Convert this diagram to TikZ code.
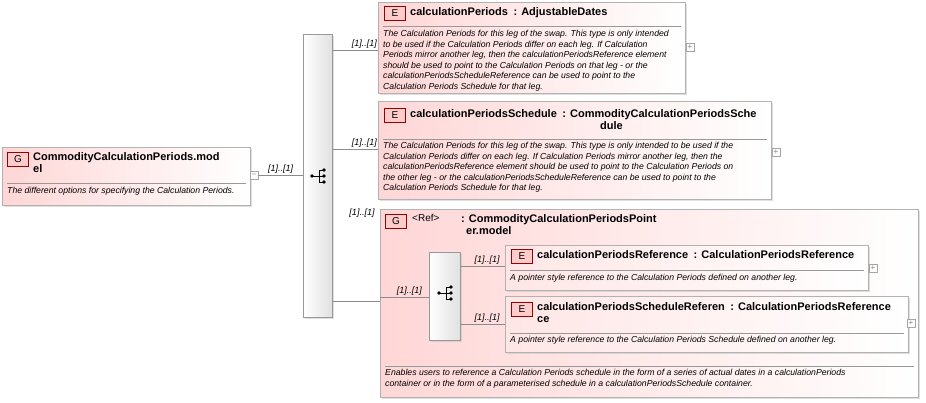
\documentclass[tikz,border=0pt]{standalone}
\usepackage{fontspec}
\setmainfont{Liberation Sans}
\usetikzlibrary{shadows}

\begin{document}
\begin{tikzpicture}[x=1pt,y=-1pt,
    kasten/.style={draw=black!30, left color=red!16, right color=white,
      drop shadow={shadow xshift=2pt,shadow yshift=-2pt,fill=black!25}},
    auswahl/.style={draw=black!40, left color=white, right color=black!12,
      drop shadow={shadow xshift=2pt,shadow yshift=-2pt,fill=black!25}},
    marke/.style={draw=red!60!black, fill=red!20, font=\fontsize{10}{11}\selectfont,
      inner sep=1.5pt, minimum width=21pt, minimum height=14pt},
    titel/.style={font=\bfseries\fontsize{11}{12.5}\selectfont, anchor=north west, inner sep=0pt, align=left},
    doku/.style={font=\itshape\fontsize{8.7}{10.6}\selectfont, anchor=north west, inner sep=0pt, align=left},
    kard/.style={font=\itshape\fontsize{9}{10}\selectfont, inner sep=1pt},
    plus/.style={draw=black!35, fill=white, minimum size=8pt, inner sep=0pt, font=\fontsize{8}{8}\selectfont\color{black!50}},
    linie/.style={draw=black!45}
    ]
  \useasboundingbox (0,0) rectangle (926,402);

  % Wahlknoten-Symbol
  \newcommand\wahlsymbol[1]{%
    \fill (#1) ++(-6,1) circle (1.8pt);
    \draw[line width=.9pt] (#1) ++(-6,1) -- ++(7,0) (#1) ++(1,-5) -- ++(0,12)
      (#1) ++(1,-5) -- ++(5,0) (#1) ++(1,1) -- ++(5,0) (#1) ++(1,7) -- ++(5,0);
    \fill (#1) ++(6,-5) circle (1.9pt) (#1) ++(6,1) circle (1.9pt) (#1) ++(6,7) circle (1.9pt);}

  % Gruppe links
  \node[kasten, minimum width=248, minimum height=58, anchor=north west] (modell) at (2,147) {};
  \node[marke] (mG) at (18,159) {G};
  \node[titel] (mT) at (33,152) {CommodityCalculationPeriods.mod\\el};
  \draw[black!40] (7,183) -- (246,183);
  \node[doku] (mD) at (7,187) {The different options for specifying the Calculation Periods.};
  \node[plus] (mP) at (254,175) {--};

  % Auswahl
  \node[auswahl, minimum width=29, minimum height=283, anchor=north west] (wahl) at (303,34) {};
  \coordinate (wS) at (318,175);
  \wahlsymbol{wS}

  % Element 1
  \node[kasten, minimum width=307, minimum height=91, anchor=north west] (perioden) at (378,2) {};
  \node[marke] (pE) at (395,13) {E};
  \node[titel] (pT) at (410,7) {calculationPeriods\enspace: AdjustableDates};
  \draw[black!40] (383,26) -- (681,26);
  \node[doku] (pD) at (383,30) {The Calculation Periods for this leg of the swap. This type is only intended\\to be used if the Calculation Periods differ on each leg. If Calculation\\Periods mirror another leg, then the calculationPeriodsReference element\\should be used to point to the Calculation Periods on that leg - or the\\calculationPeriodsScheduleReference can be used to point to the\\Calculation Periods Schedule for that leg.};
  \node[plus] (pP) at (690,47) {+};

  % Element 2
  \node[kasten, minimum width=393, minimum height=98, anchor=north west] (plan) at (378,101) {};
  \node[marke] (sE) at (395,115) {E};
  \node[titel] (sT) at (410,109) {calculationPeriodsSchedule\enspace: CommodityCalculationPeriodsSche\\\hspace*{190pt}dule};
  \draw[black!40] (383,139) -- (767,139);
  \node[doku] (sD) at (383,142) {The Calculation Periods for this leg of the swap. This type is only intended to be used if the\\Calculation Periods differ on each leg. If Calculation Periods mirror another leg, then the\\calculationPeriodsReference element should be used to point to the Calculation Periods on\\the other leg - or the calculationPeriodsScheduleReference can be used to point to the\\Calculation Periods Schedule for that leg.};
  \node[plus] (sP) at (776,152) {+};

  % Referenzgruppe
  \node[kasten, minimum width=538, minimum height=188, anchor=north west] (verweis) at (380,209) {};
  \node[marke] (vG) at (396,221) {G};
  \node[titel, font=\fontsize{10}{12}\selectfont] (vR) at (412,214) {<Ref>};
  \node[titel] (vT) at (461,214) {: CommodityCalculationPeriodsPoint\\\hspace*{5pt}er.model};
  \draw[black!40] (385,366) -- (914,366);
  \node[doku] (vD) at (385,369) {Enables users to reference a Calculation Periods schedule in the form of a series of actual dates in a calculationPeriods\\container or in the form of a parameterised schedule in a calculationPeriodsSchedule container.};

  \node[auswahl, minimum width=31, minimum height=88, anchor=north west] (wahl2) at (429,252) {};
  \coordinate (wS2) at (445,292);
  \wahlsymbol{wS2}

  \node[kasten, left color=red!10, right color=white, minimum width=363, minimum height=45, anchor=north west] (bezug) at (505,245) {};
  \node[marke] (bE) at (522,256) {E};
  \node[titel] (bT) at (537,250) {calculationPeriodsReference\enspace: CalculationPeriodsReference};
  \draw[black!40] (510,270) -- (864,270);
  \node[doku] (bD) at (510,274) {A pointer style reference to the Calculation Periods defined on another leg.};
  \node[plus] (bP) at (873,268) {+};

  \node[kasten, left color=red!10, right color=white, minimum width=403, minimum height=56, anchor=north west] (planbezug) at (505,296) {};
  \node[marke] (qE) at (522,309) {E};
  \node[titel] (qT) at (537,302) {calculationPeriodsScheduleReferen\enspace: CalculationPeriodsReference\\ce};
  \draw[black!40] (510,333) -- (904,333);
  \node[doku] (qD) at (510,336) {A pointer style reference to the Calculation Periods Schedule defined on another leg.};
  \node[plus] (qP) at (911,323) {+};

  % Verbindungen
  \draw[linie] (mP.east) -- node[kard, above] {[1]..[1]} (wahl.west |- mP);
  \draw[linie] (wahl.east |- 0,50) -- node[kard, above, pos=.7] {[1]..[1]} (perioden.west |- 0,50);
  \draw[linie] (wahl.east |- 0,149) -- node[kard, above, pos=.7] {[1]..[1]} (plan.west |- 0,149);
  \draw[linie] (wahl.east |- 0,301) -- (verweis.west |- 0,301);
  \node[kard] (vK) at (362,213) {[1]..[1]};
  \draw[linie] (verweis.west |- 0,297) -- node[kard, above, pos=.6] {[1]..[1]} (wahl2.west |- 0,297);
  \draw[linie] (wahl2.east |- 0,266) -- node[kard, above, pos=.6] {[1]..[1]} (bezug.west |- 0,266);
  \draw[linie] (wahl2.east |- 0,324) -- node[kard, above, pos=.6] {[1]..[1]} (planbezug.west |- 0,324);
\end{tikzpicture}
\end{document}
